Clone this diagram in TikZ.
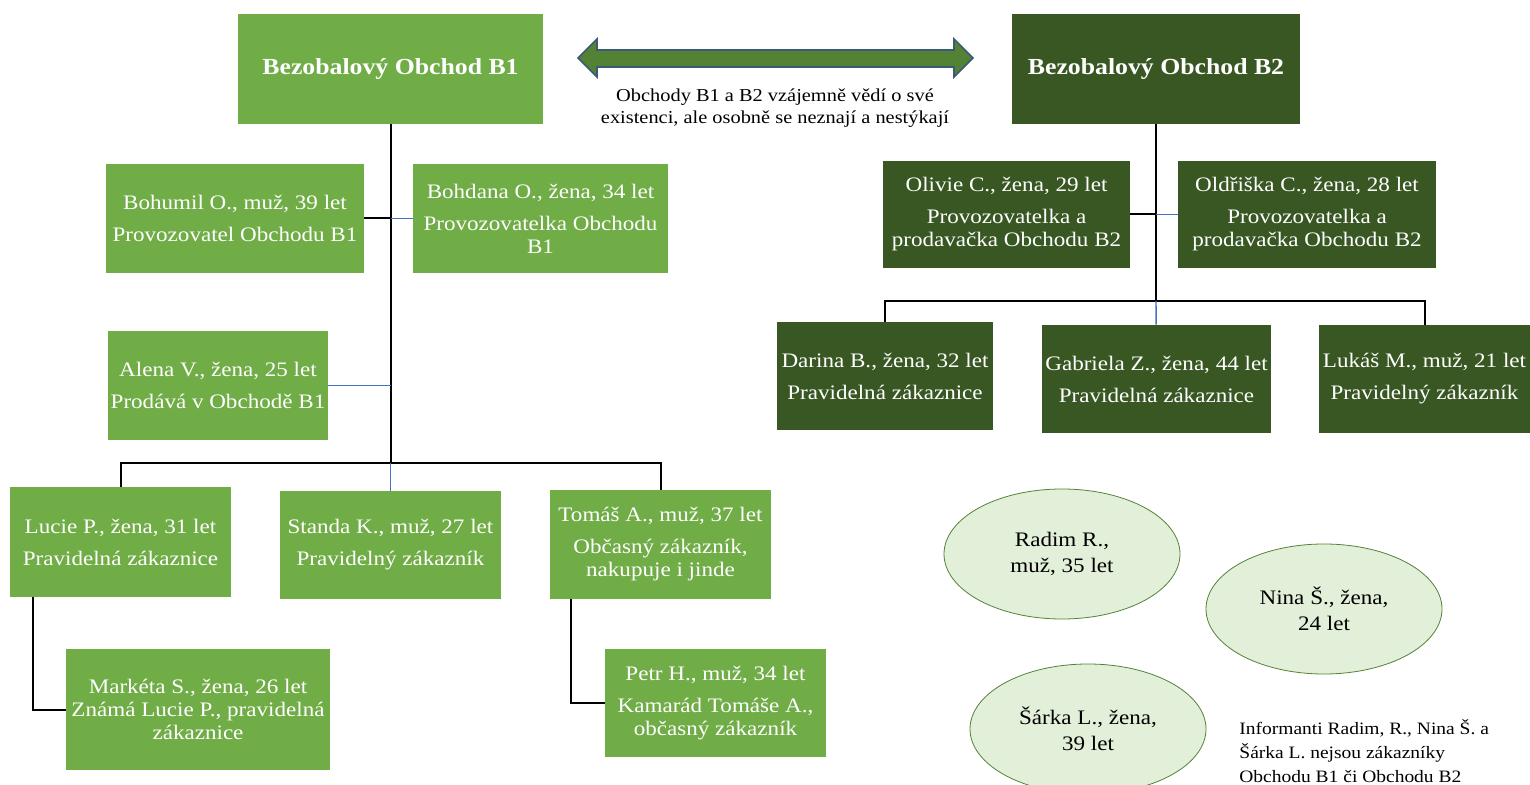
\documentclass[tikz,border=0pt]{standalone}
\usepackage{fontspec}
\setmainfont{Liberation Serif}[FakeStretch=1.12]
\usetikzlibrary{shapes.geometric}
\definecolor{lgreen}{HTML}{70AD47}
\definecolor{dgreen}{HTML}{385723}
\definecolor{pgreen}{HTML}{E2EFD9}
\definecolor{agreen}{HTML}{548235}
\definecolor{lblue}{HTML}{4472C4}
\definecolor{aline}{HTML}{3A5A78}
\begin{document}
\begin{tikzpicture}[x=0.5pt,y=-0.5pt,
  lbox/.style={fill=lgreen, text=white, align=center, inner sep=0pt, font=\fontsize{10.3}{11.5}\selectfont},
  dbox/.style={lbox, fill=dgreen},
  head/.style={font=\bfseries\fontsize{11.5}{13}\selectfont},
  oval/.style={ellipse, draw=agreen, fill=pgreen, minimum width=118pt, minimum height=65pt, align=center, inner sep=0pt, font=\fontsize{10.3}{13}\selectfont},
  bl/.style={line width=1pt},
  bu/.style={line width=0.7pt, lblue}]
\useasboundingbox (0,0) rectangle (1530,785);
\node[lbox, head, minimum width=152.5pt, minimum height=55pt] (b1) at (390.5,69) {Bezobalový Obchod B1};
\node[dbox, head, minimum width=144pt, minimum height=55pt] (b2) at (1156,69) {Bezobalový Obchod B2};
\draw[fill=agreen, draw=aline, line width=0.8pt] (578,58) -- (597,39) -- (597,50) -- (954,50) -- (954,39) -- (973,58) -- (954,77) -- (954,67) -- (597,67) -- (597,77) -- cycle;
\node[inner sep=0pt, align=center, font=\fontsize{9.1}{11}\selectfont] (cap) at (775,108) {Obchody B1 a B2 vzájemně vědí o své\\existenci, ale osobně se neznají a nestýkají};
\node[lbox, minimum width=129pt, minimum height=54.5pt] (bohumil) at (235,218.5) {Bohumil O., muž, 39 let\\[4.5pt]Provozovatel Obchodu B1};
\node[lbox, minimum width=127.5pt, minimum height=54.5pt] (bohdana) at (540.5,218.5) {Bohdana O., žena, 34 let\\[4.5pt]Provozovatelka Obchodu\\B1};
\node[lbox, minimum width=110pt, minimum height=54.5pt] (alena) at (218,385.5) {Alena V., žena, 25 let\\[4.5pt]Prodává v Obchodě B1};
\node[lbox, minimum width=110.5pt, minimum height=55pt] (lucie) at (120.5,542) {Lucie P., žena, 31 let\\[4.5pt]Pravidelná zákaznice};
\node[lbox, minimum width=110.5pt, minimum height=54pt] (standa) at (390.5,545) {Standa K., muž, 27 let\\[4.5pt]Pravidelný zákazník};
\node[lbox, minimum width=110.5pt, minimum height=54.5pt] (tomas) at (660.5,544.5) {Tomáš A., muž, 37 let\\[4.5pt]Občasný zákazník,\\nakupuje i jinde};
\node[lbox, minimum width=132pt, minimum height=60.5pt] (marketa) at (198,709.5) {Markéta S., žena, 26 let\\Známá Lucie P., pravidelná\\zákaznice};
\node[lbox, minimum width=110.5pt, minimum height=54pt] (petr) at (715.5,703) {Petr H., muž, 34 let\\[4.5pt]Kamarád Tomáše A.,\\občasný zákazník};
\coordinate (bus1) at (390.5,463);
\draw[bl] (b1) -- (bus1);
\draw[bl] (bohumil) -- (bohumil -| b1);
\draw[bu] (bohumil -| b1) -- (bohdana);
\draw[bu] (alena) -- (alena -| b1);
\draw[bl] (bus1) -| (lucie);
\draw[bl] (bus1) -| (tomas);
\draw[bu] (bus1) -- (standa);
\draw[bl] ([xshift=11.5pt]lucie.south west) |- (marketa);
\draw[bl] ([xshift=10.5pt]tomas.south west) |- (petr);
\node[dbox, minimum width=123.5pt, minimum height=53.5pt] (olivie) at (1006.5,214.5) {Olivie C., žena, 29 let\\[4.5pt]Provozovatelka a\\prodavačka Obchodu B2};
\node[dbox, minimum width=129pt, minimum height=53.5pt] (oldriska) at (1307,214.5) {Oldřiška C., žena, 28 let\\[4.5pt]Provozovatelka a\\prodavačka Obchodu B2};
\node[dbox, minimum width=108pt, minimum height=54pt] (darina) at (885,376) {Darina B., žena, 32 let\\[4.5pt]Pravidelná zákaznice};
\node[dbox, minimum width=114.5pt, minimum height=54pt] (gabriela) at (1156.5,379) {Gabriela Z., žena, 44 let\\[4.5pt]Pravidelná zákaznice};
\node[dbox, minimum width=105.5pt, minimum height=54pt] (lukas) at (1424.5,379) {Lukáš M., muž, 21 let\\[4.5pt]Pravidelný zákazník};
\coordinate (bus2) at (1156,301);
\draw[bl] (b2) -- (bus2);
\draw[bl] (olivie) -- (olivie -| b2);
\draw[bu] (olivie -| b2) -- (oldriska);
\draw[bl] (bus2) -| (darina);
\draw[bl] (bus2) -| (lukas);
\draw[bu] (bus2) -- (gabriela);
\node[oval] (radim) at (1062,554) {Radim R.,\\muž, 35 let};
\node[oval] (nina) at (1324,609) {Nina Š., žena,\\24 let};
\node[oval] (sarka) at (1088,729) {Šárka L., žena,\\39 let};
\node[anchor=west, inner sep=0pt, align=left, font=\fontsize{8.7}{12}\selectfont] (note) at (1239,751) {Informanti Radim, R., Nina Š. a\\Šárka L. nejsou zákazníky\\Obchodu B1 či Obchodu B2};
\end{tikzpicture}
\end{document}
